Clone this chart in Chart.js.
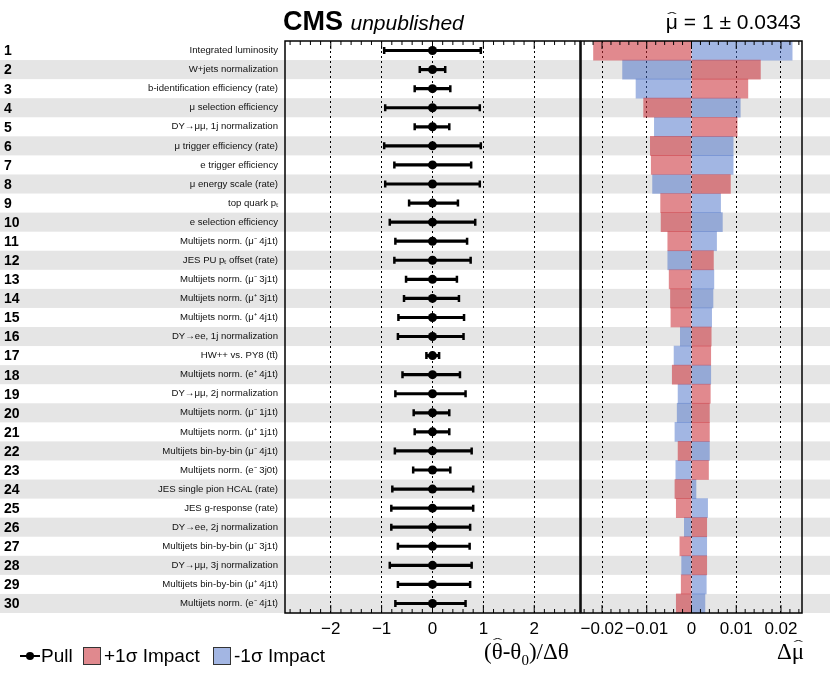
<!DOCTYPE html>
<html><head><meta charset="utf-8">
<script src="https://cdn.jsdelivr.net/npm/chart.js@4.4.1/dist/chart.umd.min.js"></script>
<style>
body{margin:0;background:#fff;width:830px;height:683px;overflow:hidden;font-family:"Liberation Sans",Arial,sans-serif;}
#wrap{position:relative;width:830px;height:683px;}
canvas{position:absolute;left:0;top:0;}
.t{position:absolute;white-space:nowrap;color:#000;line-height:1;}
.box{position:absolute;width:18px;height:18px;border:1px solid #333;box-sizing:border-box;}
.hw{position:relative;display:inline-block;}
.hat{position:absolute;left:0;right:0;text-align:center;font-weight:100;transform:scaleX(2.2);color:#333;line-height:1;}
</style></head><body>
<div id="wrap">
<canvas id="c1" width="830" height="683"></canvas>
<canvas id="c2" width="830" height="683"></canvas>
<div class="t" style="left:283px;top:8px;font-size:27px;font-weight:bold;">CMS <span style="font-weight:normal;font-style:italic;font-size:21px;">unpublished</span></div>
<div class="t" style="right:29px;top:11px;font-size:21px;"><span class="hw">μ<span class="hat" style="top:0px;font-size:13px;">ˆ</span></span> = 1 ± 0.0343</div>
<div class="t" style="left:484px;top:640px;font-size:23px;font-family:'Liberation Serif','Times New Roman',serif;">(<span class="hw">θ<span class="hat" style="top:-4px;font-size:13px;">ˆ</span></span>-θ<sub style="font-size:15px;">0</sub>)/Δθ</div>
<div class="t" style="left:777px;top:640px;font-size:23px;font-family:'Liberation Serif','Times New Roman',serif;">Δ<span class="hw">μ<span class="hat" style="top:-2px;font-size:13px;">ˆ</span></span></div>
<div style="position:absolute;left:20px;top:655px;width:20px;height:2px;background:#000;"></div>
<div style="position:absolute;left:26px;top:652px;width:8px;height:8px;border-radius:50%;background:#000;"></div>
<div class="t" style="left:41px;top:646px;font-size:19px;">Pull</div>
<div class="box" style="left:83px;top:647px;background:rgb(224,137,142);"></div>
<div class="t" style="left:104px;top:646px;font-size:19px;">+1σ Impact</div>
<div class="box" style="left:213px;top:647px;background:rgb(163,182,227);"></div>
<div class="t" style="left:234px;top:646px;font-size:19px;">-1σ Impact</div>
</div>
<script>
const rowLabels = [
 "Integrated luminosity","W+jets normalization","b-identification efficiency (rate)","μ selection efficiency",
 "DY→μμ, 1j normalization","μ trigger efficiency (rate)","e trigger efficiency","μ energy scale (rate)",
 "top quark pₜ","e selection efficiency","Multijets norm. (μ⁻ 4j1t)","JES PU pₜ offset (rate)",
 "Multijets norm. (μ⁻ 3j1t)","Multijets norm. (μ⁺ 3j1t)","Multijets norm. (μ⁺ 4j1t)","DY→ee, 1j normalization",
 "HW++ vs. PY8 (tt̄)","Multijets norm. (e⁺ 4j1t)","DY→μμ, 2j normalization","Multijets norm. (μ⁻ 1j1t)",
 "Multijets norm. (μ⁺ 1j1t)","Multijets bin-by-bin (μ⁻ 4j1t)","Multijets norm. (e⁻ 3j0t)","JES single pion HCAL (rate)",
 "JES g-response (rate)","DY→ee, 2j normalization","Multijets bin-by-bin (μ⁻ 3j1t)","DY→μμ, 3j normalization",
 "Multijets bin-by-bin (μ⁺ 4j1t)","Multijets norm. (e⁻ 4j1t)"
];
const pullCenter = [0,0,0,0,0,0,0,0,0,0,0,0,0,0,0,0,0,0,0,0,0,0,0,0,0,0,0,0,0,0];
const pullErrLow = [-0.95,-0.25,-0.35,-0.93,-0.35,-0.95,-0.75,-0.93,-0.46,-0.84,-0.73,-0.75,-0.52,-0.56,-0.67,-0.68,-0.12,-0.59,-0.73,-0.37,-0.35,-0.74,-0.38,-0.79,-0.81,-0.81,-0.68,-0.84,-0.68,-0.73];
const pullErrHigh = [0.95,0.25,0.35,0.93,0.33,0.95,0.76,0.93,0.50,0.84,0.68,0.75,0.48,0.52,0.62,0.61,0.13,0.54,0.65,0.33,0.33,0.77,0.35,0.80,0.80,0.74,0.73,0.77,0.74,0.65];
const impactUp = [-0.0219,0.0154,0.0126,-0.0107,0.0102,-0.0092,-0.0090,0.0087,-0.0069,-0.0068,-0.0053,0.0049,-0.0050,-0.0047,-0.0046,0.0044,0.0043,-0.0043,0.0042,0.0040,0.0040,-0.0030,0.0038,-0.0037,-0.0034,0.0034,-0.0026,0.0034,-0.0023,-0.0034];
const impactDown = [0.0225,-0.0154,-0.0124,0.0109,-0.0083,0.0093,0.0093,-0.0087,0.0065,0.0069,0.0056,-0.0053,0.0050,0.0048,0.0045,-0.0025,-0.0039,0.0043,-0.0030,-0.0032,-0.0037,0.0040,-0.0035,0.0010,0.0036,-0.0016,0.0034,-0.0022,0.0033,0.0030];
const pullTicks = [-2,-1,0,1,2];
const impactTicks = [-0.02,-0.01,0,0.01,0.02];

const FONT = "'Liberation Sans', Arial, sans-serif";
const fmt = v => (v === 0 ? '0' : String(v)).replace('-', '−');

const stripes = {
  id:'stripes',
  beforeDraw(chart){
    const {ctx, chartArea, scales:{y}} = chart;
    const h = (chartArea.bottom - chartArea.top) / rowLabels.length;
    ctx.save(); ctx.fillStyle = '#e5e5e5';
    rowLabels.forEach((_, i) => {
      if (i % 2 === 1) {
        const yc = y.getPixelForValue(i);
        ctx.fillRect(0, yc - h/2, chart.width, h);
      }
    });
    ctx.restore();
  },
  afterDraw(chart){
    const {ctx, scales:{y}} = chart;
    ctx.save(); ctx.fillStyle = '#000'; ctx.font = 'bold 14px ' + FONT;
    ctx.textBaseline = 'middle'; ctx.textAlign = 'left';
    rowLabels.forEach((_, i) => ctx.fillText(String(i+1), 4, y.getPixelForValue(i) + 1));
    ctx.restore();
  }
};
const frame = {
  id:'frame',
  afterDraw(chart, args, opts){
    const {ctx, chartArea:a, scales:{x}} = chart;
    ctx.save(); ctx.strokeStyle = '#000'; ctx.lineWidth = 1.5;
    ctx.strokeRect(a.left, a.top, a.right - a.left, a.bottom - a.top);
    ctx.lineWidth = 1;
    const start = Math.ceil(x.min / opts.minor);
    for (let k = start; k * opts.minor <= x.max; k++) {
      const v = k * opts.minor;
      const px = x.getPixelForValue(v);
      const major = Math.abs(v / opts.major - Math.round(v / opts.major)) < 1e-6;
      const L = major ? 8 : 4;
      ctx.beginPath();
      ctx.moveTo(px, a.bottom); ctx.lineTo(px, a.bottom - L);
      ctx.moveTo(px, a.top); ctx.lineTo(px, a.top + L);
      ctx.stroke();
    }
    ctx.restore();
  }
};

const idx = rowLabels.map((_, i) => i);
new Chart(document.getElementById('c1'), {
  type:'bar',
  data:{ labels: rowLabels, datasets:[
    { type:'bar', label:'Pull', data: idx.map(i => [pullCenter[i] + pullErrLow[i], pullCenter[i] + pullErrHigh[i]]),
      backgroundColor:'#000', barThickness:2.5, order:3 },
    { type:'scatter', label:'lo', data: idx.map(i => ({x: pullCenter[i] + pullErrLow[i], y: i})),
      pointStyle:'line', rotation:90, radius:3.5, borderColor:'#000', borderWidth:2.5, order:2 },
    { type:'scatter', label:'hi', data: idx.map(i => ({x: pullCenter[i] + pullErrHigh[i], y: i})),
      pointStyle:'line', rotation:90, radius:3.5, borderColor:'#000', borderWidth:2.5, order:2 },
    { type:'scatter', label:'c', data: idx.map(i => ({x: pullCenter[i], y: i})),
      pointStyle:'circle', radius:4.5, backgroundColor:'#000', borderColor:'#000', borderWidth:0, order:1 }
  ]},
  options:{
    indexAxis:'y', responsive:false, animation:false, devicePixelRatio:1,
    layout:{ padding:{ top:41, right:250, bottom:40, left:0 } },
    plugins:{ legend:{display:false}, tooltip:{enabled:false}, frame:{minor:0.2, major:1} },
    scales:{
      x:{ type:'linear', min:-2.9, max:2.9,
        afterBuildTicks: s => { s.ticks = pullTicks.map(v => ({value:v})); },
        ticks:{ autoSkip:false, maxRotation:0, color:'#000', font:{size:17, family:FONT}, callback: fmt, padding:6 },
        grid:{ color:'#000', lineWidth:1, drawTicks:false },
        border:{ display:false, dash:[2,3] },
        afterFit: s => { s.height = 30; } },
      y:{ type:'category', offset:true,
        ticks:{ autoSkip:false, color:'#111', font:{size:9.6, family:FONT}, padding:7 },
        grid:{ display:false, drawTicks:false }, border:{ display:false },
        afterFit: s => { s.width = 285; } }
    }
  },
  plugins:[stripes, frame]
});

new Chart(document.getElementById('c2'), {
  type:'bar',
  data:{ labels: rowLabels, datasets:[
    { label:'+1σ Impact', data: impactUp, backgroundColor:'rgba(200,40,50,0.55)', borderWidth:0, grouped:false, barPercentage:1, categoryPercentage:1 },
    { label:'-1σ Impact', data: impactDown, backgroundColor:'rgba(70,110,200,0.5)', borderWidth:0, grouped:false, barPercentage:1, categoryPercentage:1 }
  ]},
  options:{
    indexAxis:'y', responsive:false, animation:false, devicePixelRatio:1,
    layout:{ padding:{ top:41, right:28, bottom:40, left:581 } },
    plugins:{ legend:{display:false}, tooltip:{enabled:false}, frame:{minor:0.002, major:0.01} },
    scales:{
      x:{ type:'linear', min:-0.0247, max:0.0247, z:1,
        afterBuildTicks: s => { s.ticks = impactTicks.map(v => ({value:v})); },
        ticks:{ autoSkip:false, maxRotation:0, color:'#000', font:{size:17, family:FONT}, callback: fmt, padding:6 },
        grid:{ color:'#000', lineWidth:1, drawTicks:false },
        border:{ display:false, dash:[2,3] },
        afterFit: s => { s.height = 30; } },
      y:{ type:'category', offset:true, display:false }
    }
  },
  plugins:[frame]
});
</script>
</body></html>
